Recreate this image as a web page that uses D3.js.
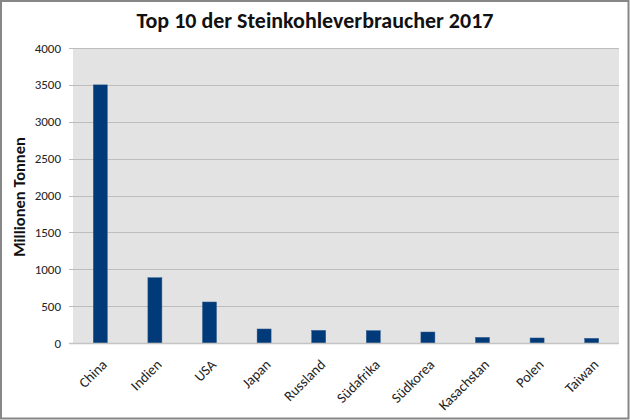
<!DOCTYPE html>
<html><head><meta charset="utf-8">
<script src="https://cdn.jsdelivr.net/npm/d3@7"></script>
<style>
html,body{margin:0;padding:0;background:#fff;}
svg{display:block;font-family:Carlito,Lato,"Open Sans",sans-serif;}
</style></head>
<body>
<svg id="chart" width="630" height="420"></svg>
<script>
const categories = ["China","Indien","USA","Japan","Russland","Südafrika","Südkorea","Kasachstan","Polen","Taiwan"];
const values = [3500, 885, 556, 190, 171, 167, 149, 76, 68, 63];
const yTicks = [0, 500, 1000, 1500, 2000, 2500, 3000, 3500, 4000];
const titleText = "Top 10 der Steinkohleverbraucher 2017";
const yTitle = "Millionen Tonnen";

const svg = d3.select("#chart");
const W = 630, H = 420;
const m = {left: 73, right: 11, top: 48, bottom: 77};

svg.append("rect").attr("x",1).attr("y",1).attr("width",W-2.5).attr("height",H-2.5)
  .attr("fill","#fff").attr("stroke","#878787").attr("stroke-width",2);

const x = d3.scaleBand().domain(categories).range([m.left, W-m.right]).paddingInner(0.744).paddingOuter(0.372);
const y = d3.scaleLinear().domain([0,4000]).range([H-m.bottom, m.top]);

svg.append("rect").attr("x",m.left).attr("y",m.top).attr("width",W-m.right-m.left).attr("height",H-m.bottom-m.top)
  .attr("fill","#e3e3e3");

// gridlines
svg.append("g").selectAll("line").data(yTicks.filter(d=>d>0)).join("line")
  .attr("x1",m.left-4).attr("x2",W-m.right)
  .attr("y1",d=>Math.round(y(d))+0.5).attr("y2",d=>Math.round(y(d))+0.5)
  .attr("stroke","#bdbdbd").attr("stroke-width",1);

// y axis labels
svg.append("g").selectAll("text").data(yTicks).join("text")
  .attr("x",m.left-12).attr("y",d=>y(d)).attr("dy","0.35em")
  .attr("text-anchor","end").attr("font-size",13).attr("fill","#222")
  .text(d=>d);

// bars
svg.append("g").selectAll("rect").data(values).join("rect")
  .attr("x",(d,i)=>x(categories[i])).attr("width",x.bandwidth())
  .attr("y",d=>y(d)).attr("height",d=>y(0)-y(d))
  .attr("fill","#003a78").attr("stroke","#2b5a8f").attr("stroke-width",0.5);

// baseline
svg.append("line").attr("x1",m.left-4).attr("x2",W-m.right)
  .attr("y1",Math.round(y(0))+0.5).attr("y2",Math.round(y(0))+0.5)
  .attr("stroke","#c4c4c4").attr("stroke-width",1.5);

// x labels
svg.append("g").selectAll("text").data(categories).join("text")
  .attr("transform",d=>`translate(${x(d)+x.bandwidth()/2+4},${y(0)+19}) rotate(-45)`)
  .attr("text-anchor","end").attr("dy","0.35em").attr("font-size",14.3).attr("fill","#222")
  .text(d=>d);

// title
svg.append("text").attr("x",315).attr("y",28).attr("text-anchor","middle")
  .attr("font-size",22).attr("font-weight","bold").attr("fill","#111").text(titleText);

// y title
svg.append("text").attr("transform","translate(25,197) rotate(-90)").attr("text-anchor","middle")
  .attr("font-size",16.5).attr("font-weight","bold").attr("fill","#111").text(yTitle);
</script>
</body></html>
